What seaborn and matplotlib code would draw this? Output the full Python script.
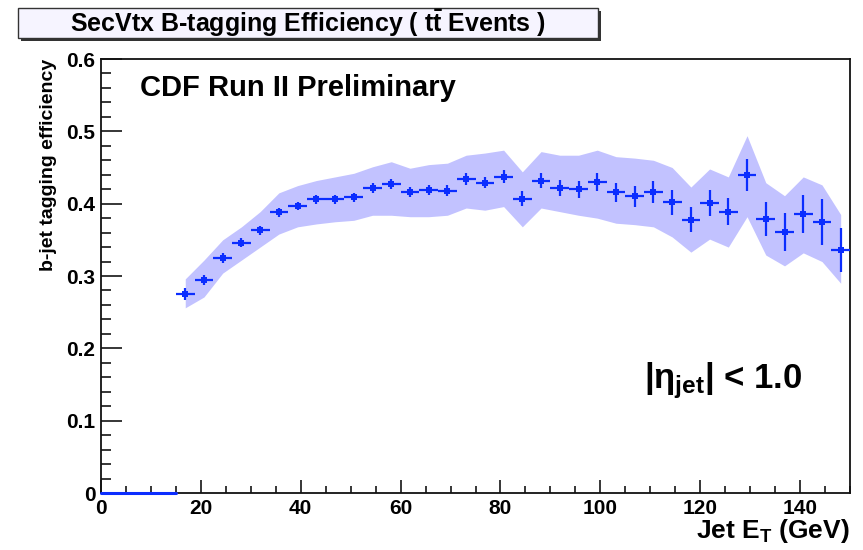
import matplotlib
matplotlib.use("Agg")
import matplotlib.pyplot as plt
import seaborn as sns
from matplotlib.patches import Rectangle
from matplotlib.ticker import MultipleLocator

# bin centres (GeV), 3.75 GeV wide bins from 15 to 150
jet_et = [16.875, 20.625, 24.375, 28.125, 31.875, 35.625, 39.375, 43.125, 46.875,
          50.625, 54.375, 58.125, 61.875, 65.625, 69.375, 73.125, 76.875, 80.625,
          84.375, 88.125, 91.875, 95.625, 99.375, 103.125, 106.875, 110.625, 114.375,
          118.125, 121.875, 125.625, 129.375, 133.125, 136.875, 140.625, 144.375, 148.125]

eff = [0.275, 0.294, 0.325, 0.346, 0.363, 0.388, 0.397, 0.406, 0.406,
       0.409, 0.422, 0.427, 0.416, 0.419, 0.418, 0.434, 0.429, 0.437,
       0.407, 0.432, 0.422, 0.420, 0.430, 0.416, 0.410, 0.416, 0.402,
       0.378, 0.401, 0.389, 0.440, 0.379, 0.361, 0.386, 0.375, 0.336]

eff_err = [0.008, 0.007, 0.007, 0.006, 0.006, 0.006, 0.006, 0.006, 0.006,
           0.006, 0.007, 0.007, 0.007, 0.007, 0.008, 0.008, 0.008, 0.009,
           0.010, 0.011, 0.011, 0.012, 0.012, 0.013, 0.015, 0.015, 0.017,
           0.017, 0.018, 0.019, 0.022, 0.023, 0.026, 0.026, 0.032, 0.030]

# systematic band
band_hi = [0.296, 0.322, 0.350, 0.368, 0.389, 0.415, 0.425, 0.432, 0.437,
           0.442, 0.451, 0.458, 0.449, 0.454, 0.456, 0.467, 0.470, 0.474,
           0.444, 0.472, 0.467, 0.467, 0.474, 0.465, 0.463, 0.460, 0.450,
           0.423, 0.448, 0.437, 0.494, 0.429, 0.411, 0.437, 0.426, 0.385]
band_lo = [0.256, 0.271, 0.304, 0.322, 0.340, 0.358, 0.368, 0.372, 0.375,
           0.377, 0.384, 0.384, 0.382, 0.382, 0.384, 0.394, 0.391, 0.396,
           0.368, 0.394, 0.389, 0.384, 0.380, 0.373, 0.371, 0.368, 0.354,
           0.333, 0.351, 0.340, 0.382, 0.329, 0.314, 0.332, 0.320, 0.290]

# empty bins below 15 GeV
empty_x = [0, 15]
empty_y = [0, 0]

BLUE = "#0b2dff"
BAND = "#c2c2ff"

sns.set_style("ticks")
plt.rcParams["font.family"] = ["Liberation Sans", "DejaVu Sans"]
plt.rcParams["font.weight"] = "bold"
plt.rcParams["text.color"] = "black"
plt.rcParams["axes.labelcolor"] = "black"
plt.rcParams["xtick.color"] = "black"
plt.rcParams["ytick.color"] = "black"
plt.rcParams["mathtext.fontset"] = "custom"
plt.rcParams["mathtext.rm"] = "Liberation Sans:bold"
plt.rcParams["mathtext.bf"] = "Liberation Sans:bold"
plt.rcParams["mathtext.it"] = "Liberation Sans:bold"

fig = plt.figure(figsize=(8.63, 5.5), dpi=100)
ax = fig.add_axes([0.117, 0.1036, 0.868, 0.7891])

ax.fill_between(jet_et, band_lo, band_hi, color=BAND, linewidth=0, zorder=1)
ax.errorbar(jet_et, eff, yerr=eff_err, xerr=1.875, fmt="none",
            ecolor=BLUE, elinewidth=1.6, capsize=0, zorder=3)
sns.scatterplot(x=jet_et, y=eff, marker="s", s=22, color=BLUE,
                edgecolor=BLUE, linewidth=0, ax=ax, zorder=4)
ax.plot(empty_x, empty_y, color=BLUE, linewidth=2.2, clip_on=False, zorder=5)

ax.set_xlim(0, 150)
ax.set_ylim(0, 0.6)
ax.xaxis.set_major_locator(MultipleLocator(20))
ax.xaxis.set_minor_locator(MultipleLocator(5))
ax.yaxis.set_major_locator(MultipleLocator(0.1))
ax.yaxis.set_minor_locator(MultipleLocator(0.02))
ax.yaxis.set_major_formatter(matplotlib.ticker.FuncFormatter(
    lambda v, p: "0" if abs(v) < 1e-9 else f"{v:.1f}"))

ax.tick_params(axis="y", which="major", direction="in", length=15, width=1.1,
               labelsize=15, pad=4)
ax.tick_params(axis="y", which="minor", direction="in", length=7.5, width=1.1)
ax.tick_params(axis="x", which="major", direction="in", length=9.5, width=1.1,
               labelsize=15, pad=4)
ax.tick_params(axis="x", which="minor", direction="in", length=5, width=1.1)
for lab in ax.get_xticklabels() + ax.get_yticklabels():
    lab.set_fontweight("bold")
for sp in ax.spines.values():
    sp.set_linewidth(1.3)
    sp.set_color("#111111")
    sp.set_visible(True)

ax.set_ylabel("b-jet tagging efficiency", fontsize=14, fontweight="bold",
              loc="top", labelpad=7)
ax.set_xlabel(r"Jet E$_\mathbf{T}$ (GeV)", fontsize=19, fontweight="bold",
              loc="right")
ax.xaxis.set_label_coords(1.0, -0.056)

ax.text(0.052, 0.965, "CDF Run II Preliminary", transform=ax.transAxes,
        fontsize=21, fontweight="bold", va="top", ha="left")
ax.text(0.725, 0.26, r"|$\eta_{\mathbf{jet}}$| < 1.0", transform=ax.transAxes,
        fontsize=25, fontweight="bold", va="center", ha="left")

# title box with drop shadow
x0, y0, w, h = 18 / 863, 1 - 38 / 550, 580 / 863, 30 / 550
fig.patches.append(Rectangle((x0 + 3 / 863, y0 - 3 / 550), w, h,
                             transform=fig.transFigure, facecolor="#333333",
                             edgecolor="none", zorder=0))
fig.patches.append(Rectangle((x0, y0), w, h, transform=fig.transFigure,
                             facecolor="#f6f4ff", edgecolor="#333333",
                             linewidth=1.0, zorder=1))
fig.text(x0 + w / 2, y0 + h / 2, r"SecVtx B-tagging Efficiency ( t$\bar{\mathbf{t}}$ Events )",
         fontsize=18, fontweight="bold", ha="center", va="center", zorder=2)

fig.savefig("out.png", dpi=100)
